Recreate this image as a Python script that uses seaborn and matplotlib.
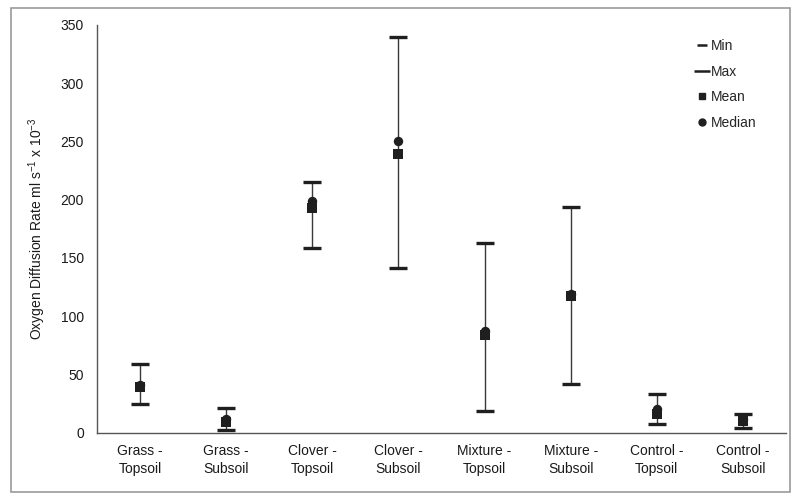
import matplotlib
matplotlib.use("Agg")
import matplotlib.pyplot as plt
from matplotlib.lines import Line2D
from matplotlib.patches import Rectangle
import seaborn as sns
import pandas as pd

categories = ["Grass -\nTopsoil", "Grass -\nSubsoil", "Clover -\nTopsoil", "Clover -\nSubsoil",
              "Mixture -\nTopsoil", "Mixture -\nSubsoil", "Control -\nTopsoil", "Control -\nSubsoil"]
min_vals = [24.5, 2.3, 158.5, 141.5, 19, 41.7, 7.4, 3.7]
max_vals = [59.3, 21, 215, 340, 163, 193.4, 33.6, 16]
mean_vals = [39.5, 9, 193, 239, 84, 117.5, 16, 10]
median_vals = [41, 11.5, 199, 250, 87, 119, 20, 11.5]
y_ticks = [0, 50, 100, 150, 200, 250, 300, 350]

sns.set_theme(style="white")
plt.rcParams["font.family"] = ["Liberation Sans", "DejaVu Sans"]
plt.rcParams["mathtext.default"] = "regular"

df = pd.DataFrame({"Treatment": categories, "Min": min_vals, "Max": max_vals,
                   "Mean": mean_vals, "Median": median_vals})

fig = plt.figure(figsize=(7.94, 4.96), dpi=100)
ax = fig.add_axes([97 / 794, 1 - 432.7 / 496, (786 - 97) / 794, (432.7 - 25) / 496])

ink = "#1f1f1f"
txt = "#1a1a1a"
ax.vlines(df["Treatment"], df["Min"], df["Max"], color="#3a3a3a", lw=1.0, zorder=2)
sns.scatterplot(data=df, x="Treatment", y="Min", marker="_", s=170, linewidth=2.4,
                color=ink, ax=ax, zorder=3)
sns.scatterplot(data=df, x="Treatment", y="Max", marker="_", s=170, linewidth=2.4,
                color=ink, ax=ax, zorder=3)
sns.scatterplot(data=df, x="Treatment", y="Median", marker="o", s=46, linewidth=0,
                color=ink, ax=ax, zorder=4)
sns.scatterplot(data=df, x="Treatment", y="Mean", marker="s", s=46, linewidth=0,
                color=ink, ax=ax, zorder=5)

n = len(categories)
ax.set_xlim(-0.5, n - 0.5)
ax.set_ylim(0, 350)
ax.set_yticks(y_ticks)
ax.set_yticklabels([str(v) for v in y_ticks], fontsize=10, color=txt)

# Category boundaries carry the tick marks, labels sit at category centres
ax.set_xticks([i - 0.5 for i in range(n + 1)])
ax.set_xticklabels([""] * (n + 1))
ax.set_xticks(range(n), minor=True)
ax.set_xticklabels(categories, minor=True, fontsize=10, color=txt, linespacing=1.4)
ax.tick_params(axis="x", which="major", direction="inout", length=7, width=0.9, color="#555555")
ax.tick_params(axis="x", which="minor", length=0, pad=8)
ax.tick_params(axis="y", direction="inout", length=7, width=0.9, color="#555555", pad=6)
ax.set_xlabel("")
ax.set_ylabel("Oxygen Diffusion Rate ml s$^{-1}$ x 10$^{-3}$", fontsize=10, color=txt, labelpad=9)

for side in ["top", "right"]:
    ax.spines[side].set_visible(False)
for side in ["left", "bottom"]:
    ax.spines[side].set_color("#555555")
    ax.spines[side].set_linewidth(1.0)

handles = [
    Line2D([], [], ls="none", marker="_", markersize=7, markeredgewidth=1.8, color=ink),
    Line2D([], [], ls="none", marker="_", markersize=12, markeredgewidth=1.8, color=ink),
    Line2D([], [], ls="none", marker="s", markersize=5, color=ink),
    Line2D([], [], ls="none", marker="o", markersize=5, color=ink),
]
ax.legend(handles, ["Min", "Max", "Mean", "Median"], loc="upper left",
          bbox_to_anchor=(0.862, 0.98), frameon=False, fontsize=10, handlelength=0.8,
          handletextpad=0.25, labelspacing=0.85, borderaxespad=0)

fig.patches.append(Rectangle((11 / 794, 1 - 492 / 496), (790 - 11) / 794, (492 - 7.5) / 496,
                             transform=fig.transFigure, fill=False, edgecolor="#9a9a9a", lw=1.2))

fig.savefig("out.png", dpi=100)
